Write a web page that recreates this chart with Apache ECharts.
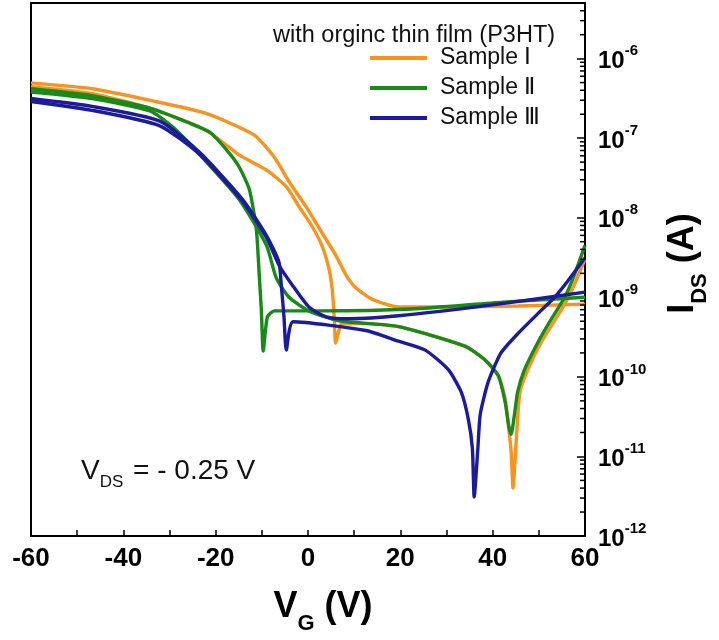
<!DOCTYPE html>
<html>
<head>
<meta charset="utf-8">
<script src="https://cdn.jsdelivr.net/npm/echarts@6/dist/echarts.min.js"></script>
<style>
html,body{margin:0;padding:0;background:#fff;}
#chart{width:719px;height:640px;}
</style>
</head>
<body>
<div id="chart"></div>
<script>
// ---- Data (V_G in volts, I_DS in amperes) ----
const seriesNames = ['Sample Ⅰ', 'Sample Ⅱ', 'Sample Ⅲ'];
const seriesColors = ['#F7931E', '#178A17', '#1B1B9C'];

// Sample I, branch 1 (turns off near +8 V, flat off-current)
const s1aV = [-60, -46.8, -34.1, -22.2, -11.7, -7.3, -4.1, -0.5, 3.0, 6.0, 8.2, 10.3, 13.8, 19.6, 32.3, 45.5, 60];
const s1aI = [4.95e-7, 4.18e-7, 2.98e-7, 2.06e-7, 1.10e-7, 5.75e-8, 2.84e-8, 1.40e-8, 6.50e-9, 3.39e-9, 1.92e-9, 1.33e-9, 9.48e-10, 7.55e-10, 7.55e-10, 7.76e-10, 8.22e-10];
// Sample I, branch 2 (dip at +6 V and +44 V)
const s1bV = [-60, -46.8, -34.1, -22.2, -15.1, -9.0, -4.7, -2.0, 0.8, 3.0, 4.5, 5.2, 5.6, 6.0, 6.7, 7.3, 12.5, 19.6, 26.7, 34.0, 38.3, 41.2, 42.7, 43.3, 44.0, 44.4, 45.1, 45.9, 47.6, 50.4, 53.4, 55.6, 57.7, 60];
const s1bI = [4.43e-7, 3.63e-7, 2.37e-7, 1.27e-7, 6.27e-8, 3.98e-8, 2.46e-8, 1.40e-8, 7.93e-9, 4.50e-9, 2.34e-9, 1.33e-9, 6.75e-10, 2.65e-10, 3.83e-10, 4.67e-10, 4.67e-10, 4.29e-10, 3.33e-10, 2.43e-10, 1.64e-10, 1.04e-10, 5.27e-11, 2.75e-11, 1.17e-11, 4.01e-12, 1.56e-11, 6.43e-11, 1.23e-10, 2.65e-10, 5.08e-10, 8.22e-10, 1.45e-9, 3.03e-9];

// Sample II, branch 1 (dip at -10 V, flat off-current)
const s2aV = [-60, -46.8, -34.1, -25.7, -21.1, -17.2, -14.9, -12.7, -11.2, -10.6, -10.1, -9.7, -8.8, -7.3, 2.6, 22.4, 42.2, 60];
const s2aI = [4.18e-7, 3.43e-7, 2.37e-7, 1.55e-7, 1.17e-7, 6.64e-8, 4.34e-8, 2.26e-8, 7.28e-9, 2.09e-9, 6.75e-10, 2.11e-10, 5.69e-10, 6.75e-10, 6.75e-10, 7.14e-10, 8.71e-10, 1.00e-9];
// Sample II, branch 2 (dip at +44 V)
const s2bV = [-60, -46.8, -34.1, -29.1, -23.5, -14.9, -9.0, -6.9, -4.1, 0.2, 6.7, 19.6, 34.0, 38.3, 41.2, 42.7, 43.5, 44.0, 44.8, 45.4, 46.9, 49.7, 52.5, 55.6, 57.7, 60];
const s2bI = [3.80e-7, 3.15e-7, 2.18e-7, 1.35e-7, 6.27e-8, 1.70e-8, 4.50e-9, 1.77e-9, 1.00e-9, 6.75e-10, 5.08e-10, 4.29e-10, 2.43e-10, 1.64e-10, 1.04e-10, 4.84e-11, 2.39e-11, 1.90e-11, 3.65e-11, 6.43e-11, 1.23e-10, 2.65e-10, 5.08e-10, 1.00e-9, 1.92e-9, 4.50e-9];

// Sample III, branch 1 (dip at -5 V and +36 V)
const s3aV = [-60, -46.8, -32.1, -23.5, -14.2, -9.0, -6.3, -5.8, -5.2, -4.7, -3.2, 12.5, 19.6, 25.4, 30.4, 33.2, 34.7, 35.6, 36.0, 36.8, 37.3, 39.0, 41.8, 45.5, 50.4, 53.4, 56.2, 60];
const s3aI = [3.15e-7, 2.51e-7, 1.64e-7, 6.64e-8, 1.70e-8, 5.97e-9, 2.78e-9, 1.45e-9, 5.69e-10, 2.17e-10, 4.94e-10, 3.83e-10, 2.81e-10, 2.17e-10, 1.23e-10, 6.43e-11, 2.99e-11, 1.28e-11, 3.10e-12, 1.28e-11, 3.35e-11, 8.53e-11, 2.00e-10, 3.52e-10, 6.75e-10, 1.00e-9, 1.58e-9, 3.11e-9];
// Sample III, branch 2 (flat off-current)
const s3bV = [-60, -46.8, -32.1, -23.5, -14.2, -9.0, -6.3, -3.5, 0.2, 3.9, 8.8, 19.6, 41.2, 60];
const s3bI = [2.89e-7, 2.24e-7, 1.43e-7, 6.27e-8, 1.61e-8, 5.65e-9, 2.55e-9, 1.45e-9, 7.55e-10, 5.69e-10, 5.38e-10, 5.86e-10, 8.22e-10, 1.16e-9];

// Axis settings
const xMin = -60, xMax = 60, xStep = 10, xLabelStep = 20;
const yMin = 1e-12, yMax = 5e-6;
const decadeExps = [-12, -11, -10, -9, -8, -7, -6];
const minorMultipliers = [2, 3, 4, 5, 6, 7, 8, 9];

const branches = [
  {name: seriesNames[0], color: seriesColors[0], v: s1aV, i: s1aI},
  {name: seriesNames[0], color: seriesColors[0], v: s1bV, i: s1bI},
  {name: seriesNames[1], color: seriesColors[1], v: s2aV, i: s2aI},
  {name: seriesNames[1], color: seriesColors[1], v: s2bV, i: s2bI},
  {name: seriesNames[2], color: seriesColors[2], v: s3aV, i: s3aI},
  {name: seriesNames[2], color: seriesColors[2], v: s3bV, i: s3bI}
];

const minorTickValues = [];
decadeExps.forEach(e => minorMultipliers.forEach(m => {
  const val = m * Math.pow(10, e);
  if (val < yMax) minorTickValues.push([xMax, val]);
}));

const FONT = '"Liberation Sans", Arial, sans-serif';

const series = branches.map(b => ({
  name: b.name,
  type: 'line',
  data: b.v.map((v, k) => [v, b.i[k]]),
  showSymbol: false,
  symbol: 'none',
  smooth: 0.2,
  lineStyle: {color: b.color, width: 3.4},
  itemStyle: {color: b.color},
  z: 3
}));

series.push({
  type: 'custom',
  name: 'minorTicks',
  silent: true,
  clip: false,
  data: minorTickValues,
  renderItem: function (params, api) {
    const p = api.coord([api.value(0), api.value(1)]);
    return {
      type: 'line',
      shape: {x1: p[0], y1: p[1], x2: p[0] - 5, y2: p[1]},
      style: {stroke: '#000', lineWidth: 1.5}
    };
  },
  z: 5
});

const chart = echarts.init(document.getElementById('chart'), null, {renderer: 'canvas'});
chart.setOption({
  animation: false,
  backgroundColor: '#fff',
  grid: {left: 31, right: 132, top: 3, bottom: 93, show: true, borderColor: '#000', borderWidth: 2, backgroundColor: 'transparent'},
  title: [
    {
      text: 'with orginc thin film (P3HT)',
      left: 268, top: 19,
      textStyle: {fontFamily: FONT, fontSize: 23.5, fontWeight: 'normal', color: '#111'}
    },
    {
      text: '{v|V}{s|DS}{v| = - 0.25 V}',
      left: 76, top: 452,
      textStyle: {
        fontWeight: 'normal',
        rich: {
          v: {fontFamily: FONT, fontSize: 28, fontWeight: 'normal', color: '#111', lineHeight: 34, verticalAlign: 'top'},
          s: {fontFamily: FONT, fontSize: 17, fontWeight: 'normal', color: '#111', lineHeight: 34, verticalAlign: 'bottom', padding: [0, 2, 0, 0]}
        }
      }
    }
  ],
  legend: {
    data: seriesNames,
    orient: 'vertical',
    left: 370, top: 46,
    icon: 'rect',
    itemWidth: 57, itemHeight: 4,
    itemGap: 6,
    padding: 0,
    textStyle: {fontFamily: FONT, fontSize: 23, color: '#111', lineHeight: 24, padding: [0, 0, 0, 8]}
  },
  xAxis: {
    type: 'value',
    min: xMin, max: xMax, interval: xStep,
    position: 'bottom',
    axisLine: {onZero: false, lineStyle: {color: '#000', width: 2}},
    axisTick: {inside: true, length: 6, lineStyle: {color: '#000', width: 1.5}},
    splitLine: {show: false},
    axisLabel: {
      margin: 10,
      color: '#000', fontFamily: FONT, fontSize: 26, fontWeight: 'bold',
      formatter: v => (Math.round(v) % xLabelStep === 0 ? String(v) : '')
    },
    name: '{v|V}{s|G}{v| (V)}',
    nameLocation: 'middle',
    nameGap: 53,
    nameTextStyle: {
      padding: [0, 0, 0, 30],
      rich: {
        v: {fontFamily: FONT, fontSize: 36, fontWeight: 'bold', color: '#000', lineHeight: 46, verticalAlign: 'top'},
        s: {fontFamily: FONT, fontSize: 22, fontWeight: 'bold', color: '#000', lineHeight: 46, verticalAlign: 'bottom'}
      }
    }
  },
  yAxis: {
    type: 'log',
    logBase: 10,
    min: yMin, max: yMax,
    position: 'right',
    axisLine: {onZero: false, lineStyle: {color: '#000', width: 2}},
    axisTick: {inside: true, length: 8, lineStyle: {color: '#000', width: 1.5}},
    splitLine: {show: false},
    minorTick: {show: false},
    axisLabel: {
      margin: 13,
      showMaxLabel: false,
      formatter: function (v) {
        const lg = Math.log10(v);
        const e = Math.round(lg);
        if (Math.abs(lg - e) > 1e-6) return '';
        return '{b|10}{s|' + e + '}';
      },
      rich: {
        b: {fontFamily: FONT, fontSize: 24, fontWeight: 'bold', color: '#000', lineHeight: 30, verticalAlign: 'bottom'},
        s: {fontFamily: FONT, fontSize: 15, fontWeight: 'bold', color: '#000', lineHeight: 30, verticalAlign: 'top'}
      }
    },
    name: '{v|I}{s|DS}{v| (A)}',
    nameLocation: 'middle',
    nameRotate: 90,
    nameGap: 80,
    nameTextStyle: {
      padding: [0, 0, 0, 12],
      rich: {
        v: {fontFamily: FONT, fontSize: 36, fontWeight: 'bold', color: '#000', lineHeight: 46, verticalAlign: 'top'},
        s: {fontFamily: FONT, fontSize: 22, fontWeight: 'bold', color: '#000', lineHeight: 46, verticalAlign: 'bottom'}
      }
    }
  },
  series: series
});
</script>
</body>
</html>
